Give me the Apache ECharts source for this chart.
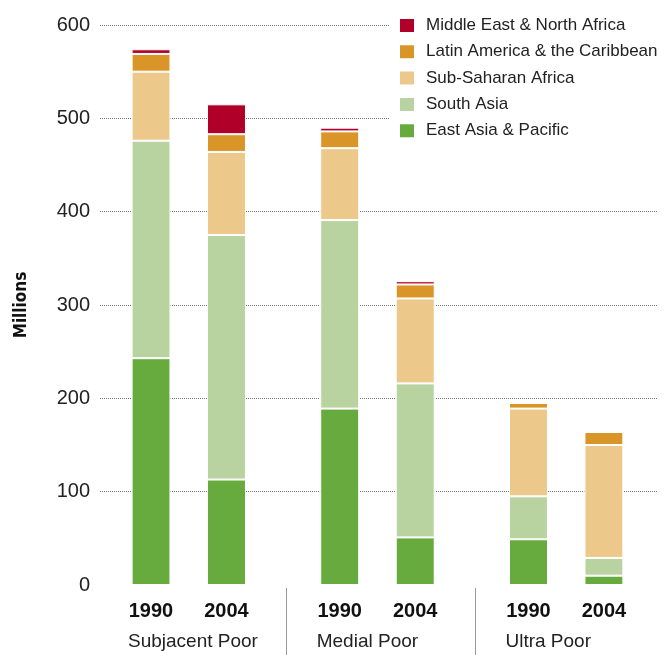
<!DOCTYPE html>
<html>
<head>
<meta charset="utf-8">
<script src="https://cdn.jsdelivr.net/npm/echarts@6/dist/echarts.min.js"></script>
<style>
html,body{margin:0;padding:0;background:#fff;}
#main{width:669px;height:655px;}
</style>
</head>
<body>
<div id="main"></div>
<script>
// ---- data ----
const groups = ['Subjacent Poor', 'Medial Poor', 'Ultra Poor'];
const years = ['1990', '2004'];
const seriesNames = ['East Asia & Pacific', 'South Asia', 'Sub-Saharan Africa', 'Latin America & the Caribbean', 'Middle East & North Africa'];
const eastAsiaPacific = [243, 113, 189, 51, 49, 10];
const southAsia = [233, 262, 202, 165, 46, 19];
const subSaharanAfrica = [74, 89, 77, 91, 94, 121];
const latinAmerica = [19, 19, 18, 15, 6, 14];
const middleEastNorthAfrica = [5, 32, 4, 3.5, 0, 0];
const yMin = 0, yMax = 600, yStep = 100;

const colors = ['#67AB3E', '#B9D3A0', '#ECC98B', '#D99527', '#B00029'];
const valueSets = [eastAsiaPacific, southAsia, subSaharanAfrica, latinAmerica, middleEastNorthAfrica];

// ---- build category slots (bars with spacer slots between) ----
const slots = [];       // category keys
const labelOf = {};     // key -> label
const barKeys = [];     // key for each bar (in data order)
let sp = 0;
groups.forEach((g, gi) => {
  if (gi > 0) { slots.push('s' + (sp++)); slots.push('s' + (sp++)); }
  years.forEach((y, yi) => {
    if (yi > 0) slots.push('s' + (sp++));
    const k = gi + '-' + yi;
    slots.push(k); labelOf[k] = y; barKeys.push(k);
  });
});

const FONT = 'Liberation Sans';
const chart = echarts.init(document.getElementById('main'), null, {renderer: 'canvas'});

const series = seriesNames.map((name, si) => {
  const vals = valueSets[si];
  const data = slots.map(k => {
    const bi = barKeys.indexOf(k);
    return bi >= 0 ? vals[bi] : null;
  });
  return {
    name: name,
    type: 'bar',
    stack: 'total',
    xAxisIndex: 1,
    yAxisIndex: 1,
    barWidth: 39,
    itemStyle: {color: colors[si], borderColor: '#fff', borderWidth: 1},
    emphasis: {disabled: true},
    data: data
  };
});

chart.setOption({
  animation: false,
  backgroundColor: '#fff',
  textStyle: {fontFamily: FONT},
  grid: [
    {left: 100, right: 12, top: 25, bottom: 70},
    {left: 132.1, right: 46.15, top: 25, bottom: 70}
  ],
  xAxis: [
    {gridIndex: 0, type: 'value', show: false, min: 0, max: 1},
    {
      gridIndex: 1, type: 'category', data: slots,
      axisLine: {show: false}, axisTick: {show: false},
      axisLabel: {
        interval: 0, margin: 16,
        formatter: v => labelOf[v] || '',
        fontFamily: FONT, fontSize: 20, fontWeight: 'bold', color: '#111', lineHeight: 20
      }
    }
  ],
  yAxis: [
    {
      gridIndex: 0, type: 'value', min: yMin, max: yMax, interval: yStep,
      name: 'Millions', nameLocation: 'middle', nameRotate: 90, nameGap: 70,
      nameTextStyle: {fontFamily: "'DejaVu Sans Condensed', 'DejaVu Sans', sans-serif", fontWeight: 'bold', fontSize: 17, color: '#111'},
      axisLine: {show: false}, axisTick: {show: false},
      axisLabel: {margin: 10, fontFamily: FONT, fontSize: 20, color: '#222'},
      splitLine: {show: true, showMinLine: false, lineStyle: {color: '#777', type: 'dotted', width: 1}}
    },
    {gridIndex: 1, type: 'value', min: yMin, max: yMax, interval: yStep, show: false, splitLine: {show: false}}
  ],
  legend: {
    orient: 'vertical', left: 390, top: 12,
    padding: [5, 0, 5, 8],
    backgroundColor: '#fff',
    itemWidth: 16, itemHeight: 15, itemGap: 9.3,
    icon: 'rect',
    selectedMode: false,
    data: seriesNames.slice().reverse(),
    textStyle: {fontFamily: FONT, fontSize: 17, color: '#222', lineHeight: 15, padding: [0, 0, 0, 6]}
  },
  series: series
});

// group labels and separators placed relative to the bars
const graphics = [];
groups.forEach((g, gi) => {
  const x = chart.convertToPixel({xAxisIndex: 1}, gi + '-0');
  graphics.push({
    type: 'text', left: x - 23, top: 632,
    style: {text: g, fontFamily: FONT, fontSize: 19, fill: '#222'}
  });
  if (gi > 0) {
    const sx = Math.round(x - 53.5) + 0.5;
    graphics.push({
      type: 'line', shape: {x1: sx, y1: 588, x2: sx, y2: 655},
      style: {stroke: '#999', lineWidth: 1}
    });
  }
});
chart.setOption({graphic: graphics});
</script>
</body>
</html>
